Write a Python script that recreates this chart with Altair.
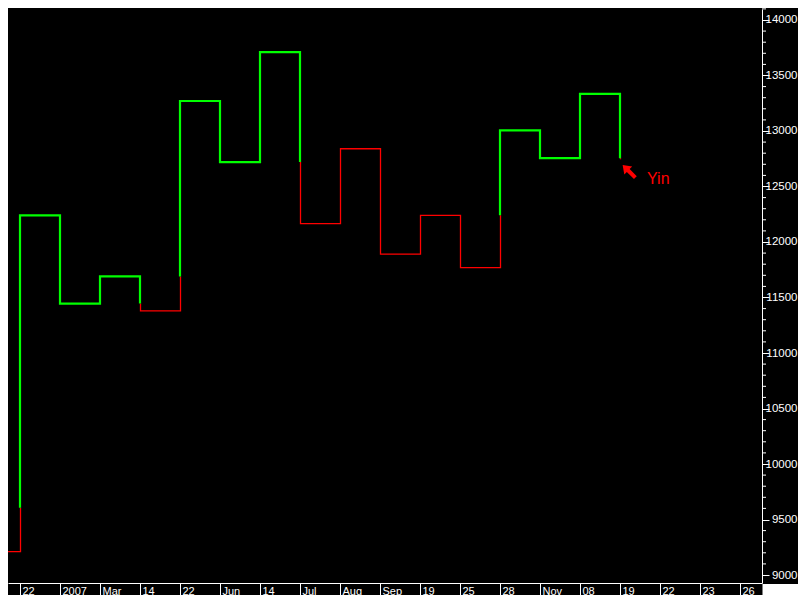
import altair as alt
import pandas as pd

# --- data -------------------------------------------------------------
# labels of the time axis, one per Kagi column
x_labels = ["22", "2007", "Mar", "14", "22", "Jun", "14", "Jul", "Aug", "Sep",
            "19", "25", "28", "Nov", "08", "19", "22", "23", "26"]
# level the line starts at, then the level each column's vertical stroke ends at
start_level = 9210
stroke_ends = [12240, 11445, 11690, 11380, 13270, 12720, 13710, 12165, 12840,
               11890, 12240, 11770, 13005, 12755, 13335, 12745]
# columns where the line changes between yin (thin) and yang (thick), and the level
switch_cols = [0, 3, 4, 7, 12, 15]
switch_levels = [9605, 11445, 11690, 12720, 12240, 12755]
# y axis ticks
y_major = list(range(9000, 14001, 500))
y_minor = [v for v in range(9100, 14101, 100) if v % 500]
# annotation
note_text = ["Yin"]
note_x = [15.675]
note_y = [12520]
arrow_x = [15.225]
arrow_y = [12637]

# --- build Kagi path ----------------------------------------------------
rows = []
state = {"run": 0, "kind": "yin", "seq": 0}


def add(x, y):
    rows.append(dict(x=x, y=y, run=state["run"], kind=state["kind"], seq=state["seq"]))
    state["seq"] += 1


switches = dict(zip(switch_cols, switch_levels))
add(-0.5, start_level)
prev = start_level
for i, end in enumerate(stroke_ends):
    add(i, prev)
    if i in switches:
        add(i, switches[i])
        state["run"] += 1
        state["kind"] = "yang" if state["kind"] == "yin" else "yin"
        add(i, switches[i])
    add(i, end)
    prev = end

path = pd.DataFrame(rows)

# --- chart --------------------------------------------------------------
xs = alt.Scale(domain=[-0.3, 18.55], nice=False, zero=False)
ys = alt.Scale(domain=[8928, 14099], nice=False, zero=False)

label_expr = "[" + ",".join(f"'{l}'" for l in x_labels) + "][datum.value]"

x_axis = alt.Axis(values=list(range(len(x_labels))), labelExpr=label_expr, orient="bottom",
                  title=None, grid=False, domain=True, ticks=True, labels=True,
                  domainColor="#ffffff", tickColor="#ffffff", tickSize=13,
                  labelColor="#ffffff", labelFont="Liberation Sans", labelFontSize=11,
                  labelAlign="left", labelBaseline="alphabetic", labelPadding=-2,
                  labelOffset=2, labelOverlap=False, labelFlush=False)
y_axis = alt.Axis(values=y_major, orient="right", title=None, grid=False,
                  domain=True, ticks=True, labels=True,
                  domainColor="#ffffff", tickColor="#ffffff", tickSize=7,
                  labelColor="#ffffff", labelFont="Liberation Sans", labelFontSize=11.5,
                  labelAlign="right", labelBaseline="middle", labelPadding=28,
                  format="d", labelOverlap=False, labelFlush=False)

yin = alt.Chart(path).transform_filter("datum.kind === 'yin'").mark_line(
    clip=True, color="#ff0000", strokeWidth=1.3, strokeJoin="miter", xOffset=0.5).encode(
    x=alt.X("x:Q", scale=xs, axis=x_axis),
    y=alt.Y("y:Q", scale=ys, axis=y_axis),
    detail="run:N",
    order="seq:Q",
)

yang = alt.Chart(path).transform_filter("datum.kind === 'yang'").mark_line(
    clip=True, color="#00ff00", strokeWidth=2.2, strokeJoin="miter").encode(
    x=alt.X("x:Q", scale=xs),
    y=alt.Y("y:Q", scale=ys),
    detail="run:N",
    order="seq:Q",
)

minor = alt.Chart(pd.DataFrame({"y": y_minor})).mark_rule(color="white", strokeWidth=1).encode(
    y=alt.Y("y:Q", scale=ys), x=alt.value(754), x2=alt.value(758))

arrow_shape = "M0,-1L0.62,-0.12L0.22,-0.12L0.22,1L-0.22,1L-0.22,-0.12L-0.62,-0.12Z"
arrow = alt.Chart(pd.DataFrame({"x": arrow_x, "y": arrow_y})).mark_point(
    shape=arrow_shape, filled=True, color="#ff0000", size=324, angle=315,
    opacity=1, strokeWidth=0).encode(
    x=alt.X("x:Q", scale=xs),
    y=alt.Y("y:Q", scale=ys))

note = alt.Chart(pd.DataFrame({"x": note_x, "y": note_y, "t": note_text})).mark_text(
    color="#ff0000", font="Liberation Sans", fontSize=16, align="left",
    baseline="alphabetic").encode(
    x=alt.X("x:Q", scale=xs),
    y=alt.Y("y:Q", scale=ys),
    text="t:N")

corner = alt.Chart(pd.DataFrame({"a": [0]})).mark_rect(color="white").encode(
    x=alt.value(754.5), x2=alt.value(790), y=alt.value(575), y2=alt.value(590))

chart = alt.layer(yin, yang, minor, arrow, note, corner).properties(
    width=754, height=574, background="#000000", padding=0,
).configure_view(strokeWidth=0)

chart.save("out.html", embed_options={"renderer": "svg", "actions": False})
